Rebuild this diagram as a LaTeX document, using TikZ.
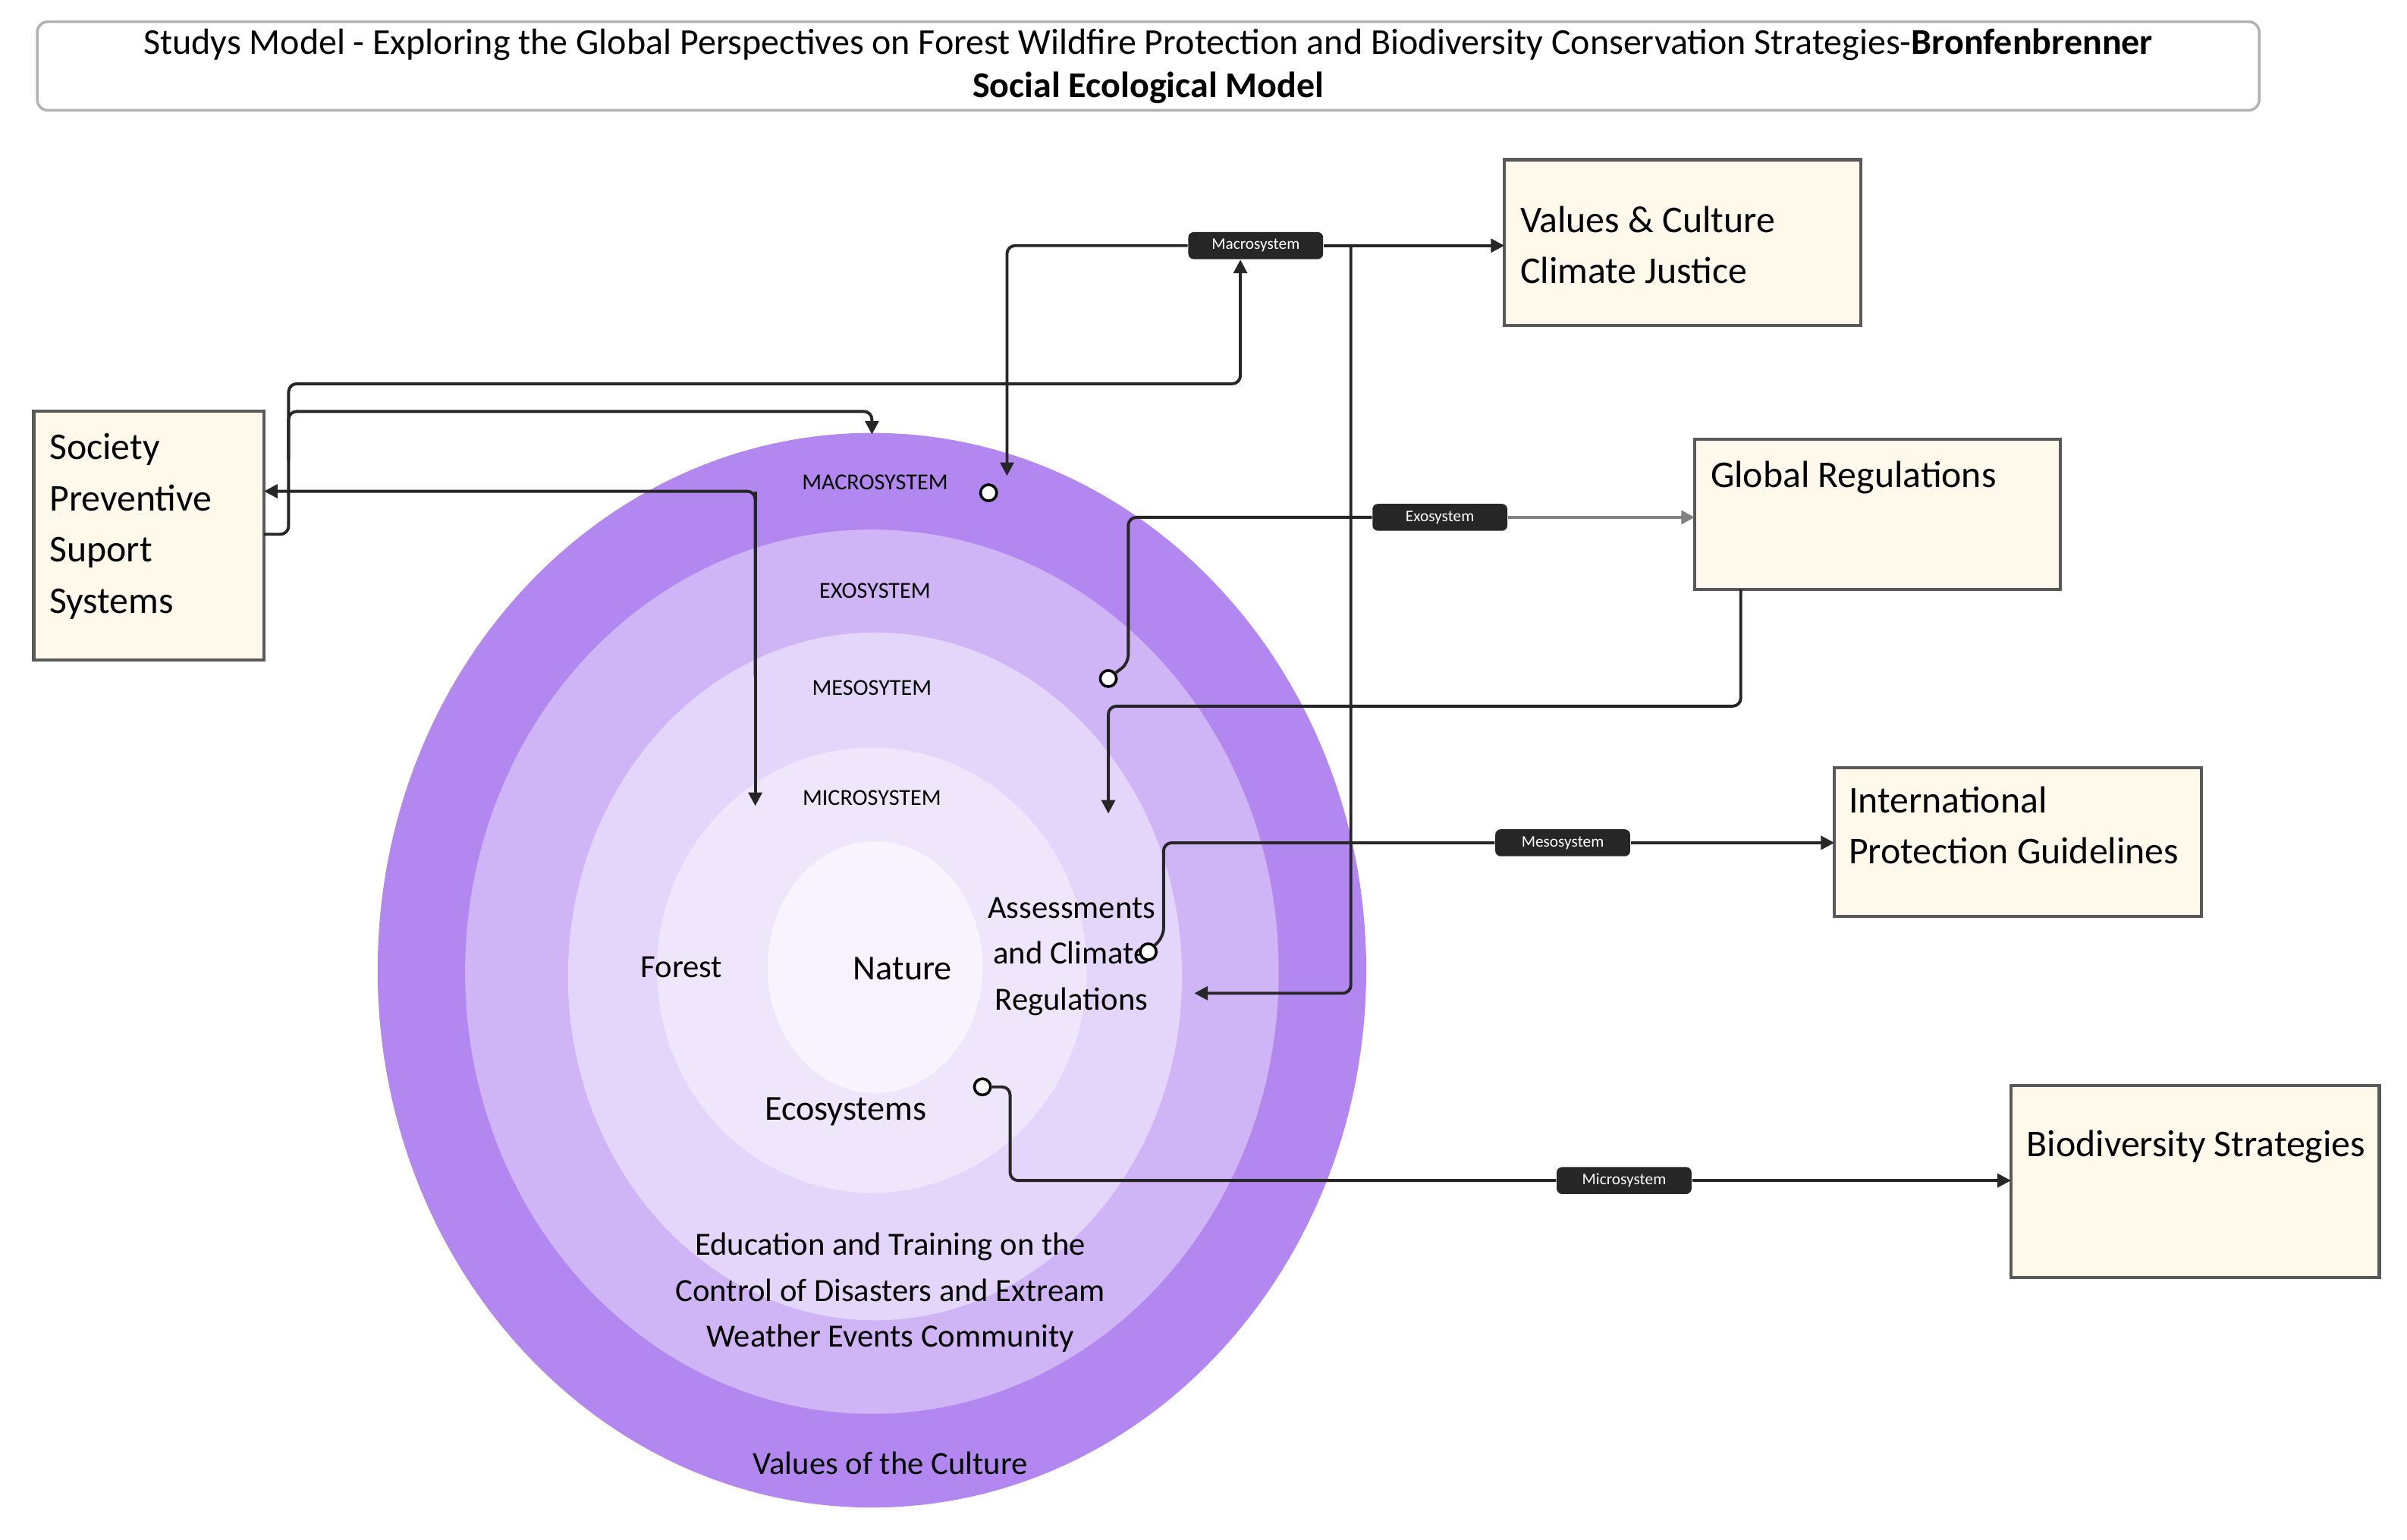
\documentclass[tikz,border=0pt]{standalone}
\usepackage{fontspec}
\setmainfont{Carlito}
\usetikzlibrary{arrows.meta}
\definecolor{c1}{HTML}{B387F0}
\definecolor{c2}{HTML}{D0B5F6}
\definecolor{c3}{HTML}{E4D6FA}
\definecolor{c4}{HTML}{EFE6FC}
\definecolor{c5}{HTML}{F8F3FE}
\definecolor{boxfill}{HTML}{FFF9EC}
\begin{document}
\begin{tikzpicture}[x=0.02cm,y=-0.02cm,
  box/.style={draw=gray!70!black,line width=1.2pt,fill=boxfill,rectangle,inner sep=0pt},
  btxt/.style={anchor=north west,align=flush left,font=\fontsize{14}{19}\selectfont,inner sep=0pt},
  tag/.style={fill=black!85,rounded corners=2pt,text=white,font=\fontsize{6}{7}\selectfont,inner sep=2pt,minimum width=50pt,minimum height=10pt},
  conn/.style={draw=black!85,line width=1.1pt,rounded corners=3pt},
  arr/.style={-{Triangle[length=5pt,width=5pt]}},
  port/.style={circle,draw=black,fill=white,line width=1pt,inner sep=0pt,minimum size=6pt},
  lab/.style={font=\fontsize{8.5}{10}\selectfont},
  txt/.style={font=\fontsize{12}{17}\selectfont,align=center}]
\useasboundingbox (0,0) rectangle (1568,1003);
% title
\node[draw=black!30,line width=1pt,rounded corners=4pt,minimum width=1453*0.567pt,minimum height=58*0.567pt,align=center,font=\fontsize{13.5}{16}\selectfont,inner sep=1pt] (title) at (748,43)
 {Studys Model - Exploring the Global Perspectives on Forest Wildfire Protection and Biodiversity Conservation Strategies-\textbf{Bronfenbrenner}\\\textbf{Social Ecological Model}};
% ellipses
\fill[c1] (568,632) ellipse [x radius=322,y radius=350];
\fill[c2] (568,633) ellipse [x radius=265,y radius=288];
\fill[c3] (570,636) ellipse [x radius=200,y radius=224];
\fill[c4] (568,632) ellipse [x radius=140,y radius=145];
\fill[c5] (570,630) ellipse [x radius=70,y radius=82];
% labels in circles
\node[lab] (lmacro) at (570,314) {MACROSYSTEM};
\node[lab] (lexo) at (570,385) {EXOSYSTEM};
\node[lab] (lmeso) at (568,448) {MESOSYTEM};
\node[lab] (lmicro) at (568,520) {MICROSYSTEM};
\node[txt] (forest) at (444,630) {Forest};
\node[txt,font=\fontsize{13}{17}\selectfont] (nature) at (588,631) {Nature};
\node[txt] (assess) at (698,623) {Assessments\\and Climate\\Regulations};
\node[txt,font=\fontsize{13}{17}\selectfont] (eco) at (551,724) {Ecosystems};
\node[txt] (edu) at (580,842) {Education and Training on the\\Control of Disasters and Extream\\Weather Events Community};
\node[txt] (vals) at (580,953) {Values of the Culture};
% boxes
\path[box] (22,268) rectangle (172,430);
\node[btxt] (soc) at (32,282) {Society\\Preventive\\Suport\\Systems};
\path[box] (980,104) rectangle (1212,212);
\node[btxt] (val) at (990,134) {Values \& Culture\\Climate Justice};
\path[box] (1104,286) rectangle (1342,384);
\node[btxt] (glob) at (1114,300) {Global Regulations};
\path[box] (1195,500) rectangle (1434,597);
\node[btxt] (intl) at (1204,512) {International\\Protection Guidelines};
\path[box] (1310,707) rectangle (1550,832);
\node[btxt] (bio) at (1320,736) {Biodiversity Strategies};
\coordinate (socE) at (172,348);
\coordinate (socE2) at (172,320);
\coordinate (valW) at (980,160);
\coordinate (globW) at (1104,337);
\coordinate (globS) at (1134,384);
\coordinate (intlW) at (1195,549);
\coordinate (bioW) at (1310,769);
% ports
\node[port] (p1) at (644,321) {};
\node[port] (p2) at (722,442) {};
\node[port] (p3) at (748,620) {};
\node[port] (p4) at (640,708) {};
% tags
\node[tag] (tmacro) at (818,160) {Macrosystem};
\node[tag] (texo) at (938,337) {Exosystem};
\node[tag] (tmeso) at (1018,549) {Mesosystem};
\node[tag] (tmicro) at (1058,769) {Microsystem};
\coordinate (a1) at (808,250);
\coordinate (a2) at (568,283);
\coordinate (a3) at (656,310);
\coordinate (a4) at (778,647);
\coordinate (a5) at (492,525);
\coordinate (a6) at (722,530);
% connectors
\draw[conn,arr] (socE) -- (188,348) -- (188,250) -- (808,250) -- (tmacro.south -| a1);
\draw[conn,arr] (188,300) -- (188,268) -- (568,268) -- (a2);
\draw[conn,arr] (tmacro.west) -- (656,160) -- (a3);
\draw[conn,arr] (tmacro.east) -- (valW);
\draw[conn,arr] (880,160) -- (880,647) -- (a4);
\draw[conn,arr] (492,440) -- (492,320) -- (socE2);
\draw[conn,arr] (492,320) -- (a5);
\draw[conn] (p2) -- (735,432) -- (735,337) -- (texo.west);
\draw[conn,draw=black!50,arr] (texo.east) -- (globW);
\draw[conn,arr] (globS) -- (1134,460) -- (722,460) -- (a6);
\draw[conn] (p3) -- (758,610) -- (758,549) -- (tmeso.west);
\draw[conn,arr] (tmeso.east) -- (intlW);
\draw[conn] (p4) -- (658,708) -- (658,769) -- (tmicro.west);
\draw[conn,arr] (tmicro.east) -- (bioW);
\end{tikzpicture}
\end{document}
